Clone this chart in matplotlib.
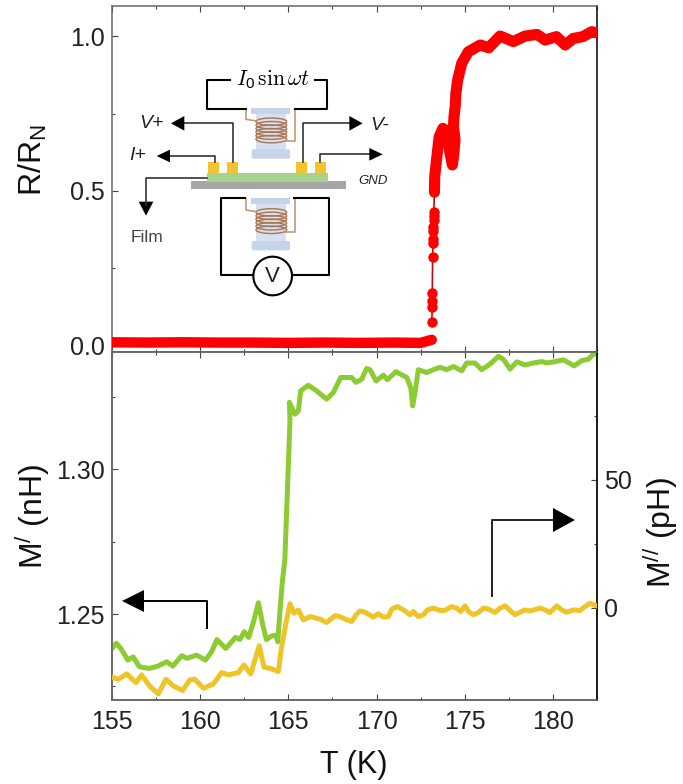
"""Resistance and mutual inductance versus temperature, with measurement sketch inset."""

import matplotlib
matplotlib.use("Agg")
import matplotlib.pyplot as plt
from matplotlib.patches import Circle, Ellipse, FancyBboxPatch, Rectangle

plt.rcParams["font.family"] = ["Liberation Sans", "DejaVu Sans"]
plt.rcParams["mathtext.default"] = "regular"

# flat part below the transition
t_low = [155.0, 157.0, 159.0, 161.0, 163.0, 165.0, 167.0, 169.0, 171.0, 172.5, 173.13]
r_low = [0.012, 0.011, 0.012, 0.011, 0.011, 0.010, 0.011, 0.010, 0.011, 0.010, 0.020]
# isolated points across the transition
t_mid = [173.13, 173.16, 173.16, 173.16, 173.18, 173.20, 173.20, 173.21, 173.22, 173.23, 173.24, 173.25, 173.28]
r_mid = [0.078, 0.127, 0.145, 0.170, 0.288, 0.332, 0.345, 0.370, 0.385, 0.405, 0.420, 0.433, 0.498]
# continuous part above it, including the back-bend near 174 K
t_high = [173.28, 173.30, 173.42, 173.55, 173.76, 174.00, 174.17, 174.30, 174.38, 174.45, 174.36,
          174.40, 174.46, 174.50, 174.60, 174.83, 175.20, 175.88, 176.36, 177.00, 177.75, 178.43,
          179.10, 179.56, 180.20, 180.70, 181.15, 181.70, 182.20, 182.50]
r_high = [0.498, 0.546, 0.610, 0.675, 0.702, 0.690, 0.620, 0.584, 0.620, 0.665, 0.707,
          0.745, 0.772, 0.816, 0.858, 0.912, 0.949, 0.971, 0.962, 1.000, 0.982, 1.000,
          1.005, 0.987, 0.998, 0.971, 0.992, 0.998, 1.014, 1.010]

t_real = [155.0, 155.25, 155.5, 155.9, 156.2, 156.55, 157.1, 157.6, 158.1, 158.45, 158.95, 159.25,
          159.8, 160.3, 160.65, 160.95, 161.45, 162.0, 162.25, 162.5, 162.75, 163.0, 163.3, 163.55,
          163.75, 164.05, 164.3, 164.4, 164.5, 164.65, 164.8, 165.04, 165.09, 165.06, 165.38, 165.57,
          165.7, 166.13, 166.6, 167.17, 167.55, 167.97, 168.59, 168.84, 169.16, 169.44, 169.63, 169.97,
          170.39, 170.61, 171.1, 171.71, 171.94, 172.05, 172.18, 172.37, 172.84, 173.22, 173.6, 173.98,
          174.36, 174.83, 175.11, 175.58, 175.96, 176.43, 176.91, 177.19, 177.57, 177.95, 178.42, 178.89,
          179.36, 179.65, 180.03, 180.6, 181.2, 181.63, 182.01, 182.29, 182.5]
m_real = [1.2381, 1.2399, 1.2381, 1.2341, 1.2352, 1.2318, 1.2312, 1.2320, 1.2335, 1.2320, 1.2356, 1.2347,
          1.2358, 1.2341, 1.2370, 1.2412, 1.2381, 1.2419, 1.2412, 1.2439, 1.2419, 1.2468, 1.2539, 1.2462,
          1.2412, 1.2424, 1.2427, 1.2404, 1.2491, 1.2606, 1.2687, 1.3081, 1.3173, 1.3231, 1.3190, 1.3202,
          1.3271, 1.3290, 1.3271, 1.3242, 1.3265, 1.3317, 1.3317, 1.3300, 1.3311, 1.3348, 1.3344, 1.3305,
          1.3325, 1.3309, 1.3337, 1.3317, 1.3282, 1.3219, 1.3265, 1.3344, 1.3334, 1.3344, 1.3352, 1.3344,
          1.3355, 1.3340, 1.3367, 1.3367, 1.3344, 1.3363, 1.3390, 1.3380, 1.3346, 1.3371, 1.3360, 1.3367,
          1.3372, 1.3367, 1.3371, 1.3378, 1.3357, 1.3375, 1.3380, 1.3398, 1.3398]

t_imag = [155.02, 155.36, 155.83, 156.36, 156.68, 157.15, 157.63, 158.06, 158.48, 159.0, 159.42, 159.7,
          160.18, 160.75, 161.22, 161.6, 162.16, 162.48, 162.86, 163.35, 163.62, 163.96, 164.43, 164.62,
          164.9, 165.09, 165.32, 165.57, 165.85, 166.23, 166.79, 167.17, 167.64, 167.93, 168.21, 168.59,
          168.84, 169.06, 169.35, 169.54, 169.82, 170.10, 170.39, 170.67, 170.86, 171.18, 171.52, 171.90,
          172.09, 172.37, 172.66, 172.88, 173.22, 173.60, 173.88, 174.26, 174.55, 174.77, 175.02, 175.21,
          175.49, 175.77, 176.06, 176.34, 176.72, 177.00, 177.29, 177.57, 177.85, 178.14, 178.42, 178.70,
          179.27, 179.55, 179.84, 180.22, 180.50, 180.78, 181.16, 181.54, 181.82, 182.10, 182.48]
m_imag = [-27.1, -27.9, -25.8, -29.2, -26.2, -30.7, -33.6, -27.9, -30.5, -32.3, -28.1, -27.9,
          -31.4, -29.7, -25.3, -26.2, -25.3, -22.3, -25.8, -14.8, -23.2, -23.6, -24.9, -15.1,
          -4.7, 1.6, -2.1, -0.8, -4.7, -3.4, -4.4, -5.7, -3.1, -3.4, -4.4, -5.3,
          -2.7, -1.2, -1.7, -2.5, -3.6, -2.3, -3.6, -3.4, -0.5, 0.5, -0.8, -2.7,
          -1.4, -3.4, -2.7, -0.8, -0.1, -1.0, -1.0, 0.5, -0.1, -1.4, 0.8, -1.4,
          -2.7, -1.8, -0.1, -0.5, -1.8, -0.1, 0.8, -1.0, -2.7, -1.7, -0.8, -1.2,
          -0.1, -0.8, -1.8, 0.8, -0.8, -1.7, -0.8, -1.0, 0.5, 1.8, 0.8]

W, H = 683, 784
TICK_COLOR = "#222222"
LABEL_SIZE = 23


def frac_box(left, top, right, bottom):
    return [left / W, 1 - bottom / H, (right - left) / W, (bottom - top) / H]


def style_axis(ax):
    ax.set_xlim(155, 182.5)
    ax.set_xticks([155, 160, 165, 170, 175, 180])
    ax.set_xticks([157.5, 162.5, 167.5, 172.5, 177.5, 182.5], minor=True)
    ax.tick_params(axis="both", which="major", direction="in", length=4, width=0.8, labelsize=18,
                   labelcolor=TICK_COLOR, color="#444444", top=True, pad=5)
    ax.tick_params(axis="both", which="minor", direction="in", length=2.5, width=0.8, color="#444444", top=True)
    for s in ax.spines.values():
        s.set_linewidth(1.1)
        s.set_color("#666666")


def big_arrow(ax, x, y, w, h, dx):
    ax.fill([x, x - dx * w, x - dx * w], [y, y - h / 2, y + h / 2], color="k", lw=0, zorder=6)


fig = plt.figure(figsize=(W / 100, H / 100), dpi=100)

# ---- top panel
ax1 = fig.add_axes(frac_box(112, 6, 597, 352))
ax1.plot(t_low, r_low, color="#ff0000", lw=7.5, solid_capstyle="round", zorder=3)
ax1.plot(t_high, r_high, color="#ff0000", lw=8, solid_capstyle="round", solid_joinstyle="round", zorder=3)
ax1.plot(t_mid, r_mid, color="#b01010", lw=1.2, zorder=2)
ax1.plot(t_mid, r_mid, ls="none", marker="o", ms=7.5, color="#ff0000", mew=0, zorder=3)
style_axis(ax1)
ax1.set_ylim(-0.0194, 1.0968)
ax1.set_yticks([0, 0.5, 1.0], ["0.0", "0.5", "1.0"])
ax1.set_yticks([0.25, 0.75], minor=True)
ax1.tick_params(axis="x", which="both", labelbottom=False)
ax1.spines["right"].set_color("k")

# ---- bottom panel
ax2 = fig.add_axes(frac_box(112, 352, 597, 700))
ax2.plot(t_real, m_real, color="#8ccc32", lw=3.6, zorder=3)
style_axis(ax2)
ax2.set_ylim(1.2203, 1.3405)
ax2.set_yticks([1.25, 1.30], ["1.25", "1.30"])
ax2.set_yticks([1.225, 1.275, 1.325], minor=True)
ax2.tick_params(axis="x", which="major", pad=7)

ax3 = ax2.twinx()
ax3.plot(t_imag, m_imag, color="#efc428", lw=3.6, zorder=3)
ax3.set_ylim(-36, 100)
ax3.set_yticks([0, 50], ["0", "50"])
ax3.set_yticks([25, 75], minor=True)
ax3.tick_params(axis="y", which="major", direction="in", length=4, width=0.8, labelsize=18,
                labelcolor=TICK_COLOR, color="#444444", pad=5)
ax3.tick_params(axis="y", which="minor", direction="in", length=2.5, width=0.8, color="#444444")
for s in ax3.spines.values():
    s.set_linewidth(1.1)
    s.set_color("#666666")
ax3.spines["right"].set_color("k")

fig.text(33 / W, 1 - 160 / H, "R/R$_N$", rotation=90, fontsize=LABEL_SIZE, ha="center", va="center", color="#111111")
fig.text(32 / W, 1 - 516 / H, "M$^{/}$ (nH)", rotation=90, fontsize=LABEL_SIZE, ha="center", va="center", color="#111111")
fig.text(661 / W, 1 - 532 / H, "M$^{//}$ (pH)", rotation=90, fontsize=LABEL_SIZE, ha="center", va="center", color="#111111")
fig.text(354 / W, 1 - 765 / H, "T (K)", fontsize=22, ha="center", va="center", color="#111111")

# ---- overlay in pixel coordinates: the two L arrows
over = fig.add_axes([0, 0, 1, 1], facecolor="none")
over.set_xlim(0, W)
over.set_ylim(H, 0)
over.axis("off")
over.plot([207, 207, 140], [628, 601, 601], color="k", lw=1.4)
big_arrow(over, 122, 601, 22, 22, -1)
over.plot([492, 492, 556], [596, 520, 520], color="#222222", lw=1.4)
big_arrow(over, 575, 520, 22, 24, 1)

# ---- inset sketch, coordinates follow a 3x crop of the picture
sk = fig.add_axes(frac_box(110, 60, 400, 310), facecolor="none")
sk.set_xlim(0, 870)
sk.set_ylim(750, 0)
sk.axis("off")


def coil(top, bottom):
    blue = "#c6d4ea"
    sk.add_patch(Rectangle((422, top), 118, 18, color=blue, lw=0))
    sk.add_patch(Rectangle((437, top + 18), 90, bottom - top - 40, color="#d6e0f0", lw=0))
    sk.add_patch(FancyBboxPatch((430, bottom - 22), 105, 18, boxstyle="round,pad=5", color=blue, lw=0))
    for k in range(6):
        sk.add_patch(Ellipse((484, top + 42 + k * 10.5), 92, 22, fill=False, ec="#a9764f", lw=1))
    sk.plot([408, 408, 440], [top + 3, top + 35, top + 40], color="#c39873", lw=1.2)
    sk.plot([555, 555, 525], [top + 3, top + 100, top + 100], color="#c39873", lw=1.2)


coil(143, 295)
coil(415, 570)

sk.plot([360, 292, 292, 408], [60, 60, 148, 148], color="k", lw=1.5)
sk.plot([615, 650, 650, 555], [60, 60, 148, 148], color="k", lw=1.5)
sk.text(488, 58, r"$\mathit{I}_0\,\mathrm{sin}\,\mathit{\omega t}$", fontsize=15.5, ha="center", va="center",
        math_fontfamily="cm")

sk.plot([368, 368, 215], [305, 190, 190], color="#333333", lw=1.2)
big_arrow(sk, 183, 190, 40, 44, -1)
sk.plot([578, 578, 725], [305, 190, 190], color="#333333", lw=1.2)
big_arrow(sk, 758, 190, 40, 44, 1)
sk.plot([315, 315, 170], [305, 288, 288], color="#333333", lw=1.2)
big_arrow(sk, 140, 288, 40, 38, -1)
sk.plot([630, 630, 785], [305, 283, 283], color="#333333", lw=1.2)
big_arrow(sk, 818, 283, 40, 38, 1)
sk.plot([290, 108, 108], [354, 354, 435], color="#333333", lw=1.2)
sk.fill([108, 86, 130], [467, 425, 425], color="k", lw=0)

sk.text(125, 190, "V+", fontsize=14, style="italic", ha="center", va="center", color="#222222")
sk.text(810, 195, "V-", fontsize=14, style="italic", ha="center", va="center", color="#222222")
sk.text(82, 288, "I+", fontsize=14, style="italic", ha="center", va="center", color="#222222")
sk.text(790, 362, "GND", fontsize=9.5, style="italic", ha="center", va="center", color="#222222")
sk.text(110, 532, "Film", fontsize=12.5, ha="center", va="center", color="#444444")

sk.add_patch(Rectangle((242, 362), 465, 25, color="#a6a6a6", lw=0))
sk.add_patch(Rectangle((290, 340), 363, 27, color="#a9d18e", lw=0))
for x0 in [295, 352, 558, 615]:
    sk.add_patch(Rectangle((x0, 305), 32, 35, color="#f4c430", lw=0))

sk.plot([405, 332, 332, 432], [415, 415, 645, 645], color="k", lw=1.5)
sk.plot([545, 657, 657, 553], [645, 645, 415, 415], color="k", lw=1.5)
sk.add_patch(Circle((488, 648), 58, fc="w", ec="k", lw=1.5, zorder=4))
sk.text(488, 650, "V", fontsize=16, ha="center", va="center", zorder=5, color="#222222")

fig.savefig("out.png", dpi=100)
